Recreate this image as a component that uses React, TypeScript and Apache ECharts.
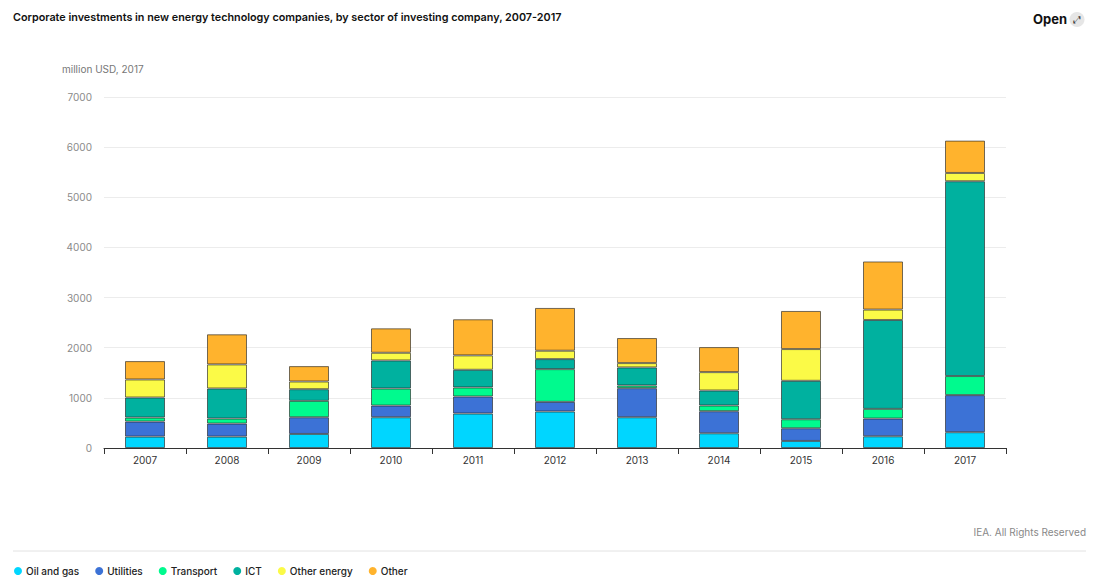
import React, { useEffect, useRef } from "react";
import * as echarts from "echarts";

const years = ["2007", "2008", "2009", "2010", "2011", "2012", "2013", "2014", "2015", "2016", "2017"];
const oilAndGas = [227, 227, 280, 613, 687, 727, 613, 293, 140, 233, 315];
const utilities = [300, 260, 333, 233, 340, 193, 580, 440, 253, 354, 740];
const transport = [80, 100, 327, 340, 180, 653, 54, 114, 180, 193, 380];
const ict = [400, 600, 233, 560, 353, 200, 360, 300, 767, 1773, 3885];
const otherEnergy = [360, 480, 153, 153, 287, 167, 86, 366, 633, 207, 165];
const other = [366, 600, 307, 487, 720, 853, 500, 500, 760, 960, 645];
const yTicks = { min: 0, max: 7000, interval: 1000 };

const seriesDefs = [
  { name: "Oil and gas", data: oilAndGas, color: "#00D6FF" },
  { name: "Utilities", data: utilities, color: "#3C72D6" },
  { name: "Transport", data: transport, color: "#00FA8E" },
  { name: "ICT", data: ict, color: "#00B19F" },
  { name: "Other energy", data: otherEnergy, color: "#FBFA47" },
  { name: "Other", data: other, color: "#FFB32D" },
];

const FONT = "Inter, 'Noto Sans', sans-serif";

export default function App() {
  const ref = useRef<HTMLDivElement>(null);
  useEffect(() => {
    document.body.style.margin = "0";
    if (!ref.current) return;
    const chart = echarts.init(ref.current, undefined, { renderer: "svg" });
    chart.setOption({
      animation: false,
      textStyle: { fontFamily: FONT },
      grid: { left: 104, right: 93, top: 97, bottom: 138, containLabel: false },
      legend: {
        left: 9,
        top: 561,
        icon: "circle",
        itemWidth: 8,
        itemHeight: 8,
        itemGap: 16,
        itemStyle: { borderWidth: 0 },
        textStyle: { fontSize: 10, color: "#222", fontFamily: FONT, fontWeight: 500, padding: [0, 0, 0, -1] },
        data: seriesDefs.map((s) => s.name),
      },
      xAxis: {
        type: "category",
        data: years,
        axisLine: { lineStyle: { color: "#333", width: 1 } },
        axisTick: { show: true, length: 6, lineStyle: { color: "#333" } },
        axisLabel: { color: "#333", fontSize: 10, margin: 7, fontFamily: FONT },
      },
      yAxis: {
        type: "value",
        min: yTicks.min,
        max: yTicks.max,
        interval: yTicks.interval,
        axisLine: { show: false },
        axisTick: { show: false },
        axisLabel: {
          color: "#8a8a8a",
          fontSize: 10,
          margin: 12,
          fontFamily: FONT,
          formatter: (v: number) => String(v),
        },
        splitLine: { lineStyle: { color: "#ececec", width: 1 } },
      },
      series: seriesDefs.map((s) => ({
        name: s.name,
        type: "bar",
        stack: "total",
        barWidth: 40,
        data: s.data,
        itemStyle: { color: s.color, borderColor: "rgba(40,40,40,0.65)", borderWidth: 1 },
        emphasis: { disabled: true },
      })),
      graphic: [
        {
          type: "text",
          left: 13,
          top: 12,
          style: {
            text: "Corporate investments in new energy technology companies, by sector of investing company, 2007-2017",
            fontSize: 10.8,
            fontWeight: 600,
            fill: "#111",
            fontFamily: FONT,
          },
        },
        {
          type: "text",
          left: 62,
          top: 64,
          style: { text: "million USD, 2017", fontSize: 10, fill: "#777", fontFamily: FONT },
        },
        {
          type: "text",
          left: 1033,
          top: 12,
          style: { text: "Open", fontSize: 13, fontWeight: 700, fill: "#111", fontFamily: FONT },
        },
        {
          type: "circle",
          shape: { cx: 1077, cy: 19.5, r: 7.5 },
          style: { fill: "#e6e6e6" },
        },
        {
          type: "text",
          x: 1077,
          y: 19.5,
          style: {
            text: "⤢",
            fontSize: 10,
            fill: "#333",
            align: "center",
            verticalAlign: "middle",
            fontFamily: "DejaVu Sans",
          },
        },
        {
          type: "text",
          right: 13,
          top: 527,
          style: { text: "IEA. All Rights Reserved", fontSize: 10, fill: "#888", fontFamily: FONT },
        },
        {
          type: "line",
          shape: { x1: 13, y1: 551, x2: 1086, y2: 551 },
          style: { stroke: "#e2e2e2", lineWidth: 1 },
        },
      ],
    });
    return () => chart.dispose();
  }, []);
  return <div ref={ref} style={{ width: 1099, height: 586 }} />;
}
